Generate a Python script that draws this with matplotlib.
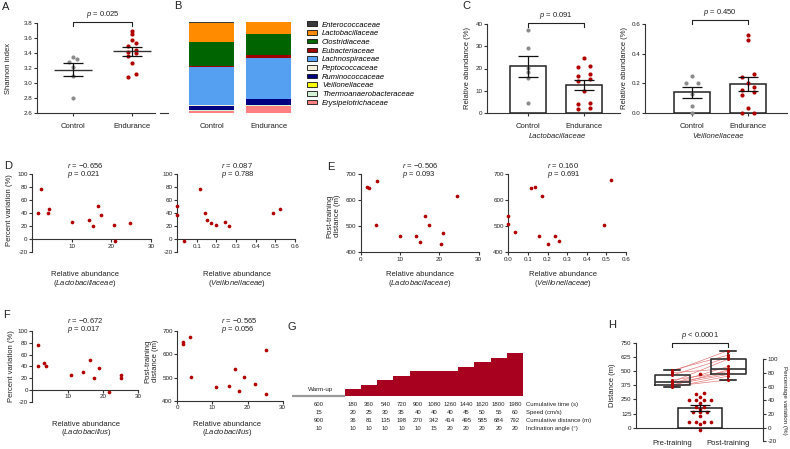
import numpy as np
import matplotlib
matplotlib.use("Agg")
import matplotlib.pyplot as plt
from matplotlib.patches import Patch
from matplotlib.lines import Line2D
from matplotlib import transforms

plt.rcParams['font.family'] = ['Liberation Sans', 'DejaVu Sans']
plt.rcParams['mathtext.fontset'] = 'custom'
plt.rcParams['mathtext.rm'] = 'Liberation Sans'
plt.rcParams['mathtext.it'] = 'Liberation Sans:italic'
plt.rcParams['axes.unicode_minus'] = False

W, H = 790, 449
RED = '#b00000'
RED_G = '#a8001f'
GRAY = '#8c8c8c'
DARK = '#333333'

# ---------------- data ----------------
groups = ['Control', 'Endurance']

# A - Shannon index
shannon_ctrl = [3.35, 3.32, 3.28, 3.22, 3.09, 2.80]
shannon_end = [3.70, 3.65, 3.58, 3.53, 3.50, 3.44, 3.42, 3.40, 3.36, 3.27, 3.12, 3.08]

# B - family composition (%), legend order (top of stack first)
families = ['Enterococcaceae', 'Lactobacillaceae', 'Clostridiaceae', 'Eubacteriaceae',
            'Lachnospiraceae', 'Peptococcaceae', 'Ruminococcaceae', 'Veillonellaceae',
            'Thermoanaerobacteraceae', 'Erysipelotrichaceae']
fam_colors = ['#3a3a3a', '#ff8c00', '#006400', '#a00000', '#55a0f0',
              '#f4f1dc', '#000080', '#ffff00', '#d4f2d4', '#ff8080']
comp_ctrl = [0.7, 20.8, 26.6, 1.8, 41.7, 0.4, 4.8, 0.14, 0.5, 2.6]
comp_end = [0.5, 12.8, 23.2, 3.3, 44.3, 0.4, 7.0, 0.2, 0.4, 7.9]

# C - relative abundances (%)
lacto_ctrl = [37.4, 29.3, 20.3, 18.5, 15.8, 4.5]
lacto_end = [24.6, 21.0, 20.7, 17.5, 16.6, 15.3, 14.3, 10.1, 4.3, 4.0, 2.2, 1.6]
veil_ctrl = [0.25, 0.205, 0.20, 0.13, 0.045, 0.0]
veil_end = [0.524, 0.49, 0.262, 0.245, 0.20, 0.174, 0.155, 0.14, 0.118, 0.037, 0.0, 0.0]

# D - percent variation vs abundance
d_lacto = [1.6, 2.2, 4.0, 4.3, 10.1, 14.3, 15.3, 16.6, 17.5, 20.7, 21.0, 24.6]
d_lacto_var = [40.8, 76.5, 40.8, 45.9, 26.5, 30.1, 20.4, 51.0, 37.8, 22.4, -2.0, 25.5]
d_veil = [0.0, 0.0, 0.037, 0.118, 0.14, 0.155, 0.174, 0.20, 0.245, 0.262, 0.49, 0.524]
d_veil_var = [51.0, 37.8, -2.0, 76.5, 40.8, 30.0, 25.5, 22.0, 26.5, 20.4, 40.8, 45.9]

# E - post-training distance vs abundance
e_lacto = [1.5, 2.1, 4.2, 3.9, 10.0, 14.1, 15.1, 16.4, 17.4, 20.4, 20.9, 24.4]
e_lacto_dist = [651, 645, 674, 503, 461, 463, 441, 539, 505, 431, 475, 617]
e_veil = [0.0, 0.0, 0.034, 0.116, 0.136, 0.172, 0.155, 0.20, 0.24, 0.26, 0.49, 0.522]
e_veil_dist = [540, 507, 476, 646, 651, 617, 464, 431, 462, 443, 505, 676]

# F - Lactobacillus genus
f_lacto = [1.5, 1.7, 3.4, 3.9, 11.0, 14.5, 16.4, 17.6, 19.0, 21.9, 25.1, 25.3]
f_lacto_var = [40.0, 76.0, 45.7, 40.6, 25.7, 29.7, 50.3, 19.4, 37.0, -3.0, 24.6, 21.0]
f_lacto2 = [1.5, 1.7, 3.6, 3.9, 11.0, 14.7, 17.5, 16.5, 19.1, 22.0, 25.2, 25.2]
f_lacto2_dist = [650, 645, 674, 502, 460, 463, 441, 537, 504, 473, 617, 430]

# G - training protocol
cum_time = [180, 360, 540, 720, 900, 1080, 1260, 1440, 1620, 1800, 1980]
speed = [20, 25, 30, 35, 40, 40, 40, 45, 50, 55, 60]
cum_dist = [36, 81, 135, 198, 270, 342, 414, 495, 585, 684, 792]
incl = [10, 10, 10, 10, 10, 15, 20, 20, 20, 20, 20]
warmup = [600, 15, 900, 10]
row_names = ['Cumulative time (s)', 'Speed (cm/s)', 'Cumulative distance (m)', 'Inclination angle (°)']

# H - distance pre/post and percentage variation
pre_dist = [357, 365, 372, 379, 390, 396, 404, 420, 462, 486, 495, 506]
post_dist = [455, 421, 510, 470, 540, 480, 605, 495, 620, 520, 680, 640]
pct_var = [51.2, 48.8, 45.3, 40.5, 40.5, 40.5, 40.5, 36.1, 30.7, 30.7, 27.3,
           23.4, 23.4, 23.4, 17.1, 8.8, 8.8, 8.8, 8.8, 5.4, -3.4, 78.0]

fig = plt.figure(figsize=(W / 100, H / 100), dpi=100)


def add_ax(l, t, r, b):
    return fig.add_axes([l / W, 1 - b / H, (r - l) / W, (b - t) / H])


def ftext(x, y, s, **kw):
    kw.setdefault('ha', 'center')
    kw.setdefault('va', 'center')
    kw.setdefault('fontsize', 5.5)
    kw.setdefault('color', '#222222')
    fig.text(x / W, 1 - y / H, s, **kw)


def style(ax):
    for s in ['top', 'right']:
        ax.spines[s].set_visible(False)
    for s in ['left', 'bottom']:
        ax.spines[s].set_color(DARK)
        ax.spines[s].set_linewidth(0.8)
    ax.tick_params(length=2, width=0.8, color=DARK, labelsize=4.5, pad=1.2, labelcolor='#222222')
    ax.patch.set_alpha(0)


def swarm(vals, tol, step):
    vals = np.asarray(vals, float)
    order = np.argsort(vals)
    offs = np.zeros(len(vals))
    grps, cur = [], [order[0]]
    for i in order[1:]:
        if vals[i] - vals[cur[0]] < tol:
            cur.append(i)
        else:
            grps.append(cur)
            cur = [i]
    grps.append(cur)
    for g in grps:
        n = len(g)
        for k, i in enumerate(g):
            offs[i] = (k - (n - 1) / 2) * step
    return offs


def bracket(ax, x1, x2, y_px, text):
    tr = transforms.blended_transform_factory(ax.transData, fig.transFigure)
    y0 = 1 - y_px / H
    y1 = 1 - (y_px + 4) / H
    ax.plot([x1, x1, x2, x2], [y1, y0, y0, y1], color='#222222', lw=0.8,
            transform=tr, clip_on=False)
    ax.text((x1 + x2) / 2, 1 - (y_px - 7) / H, text, transform=tr, ha='center',
            va='center', fontsize=5.5, color='#222222')


def mean_sem(v):
    v = np.asarray(v, float)
    return v.mean(), v.std(ddof=1) / np.sqrt(len(v))


def errbar(ax, x, m, se, half=0.18):
    ax.vlines(x, m - se, m + se, color='#111111', lw=0.9, zorder=4)
    ax.hlines([m - se, m + se], x - half, x + half, color='#111111', lw=0.9, zorder=4)


# ---------------- A ----------------
ax = add_ax(37, 23, 155, 113)
style(ax)
for i, (vals, col) in enumerate([(shannon_ctrl, GRAY), (shannon_end, RED)]):
    m, se = mean_sem(vals)
    ax.scatter(i + swarm(vals, 0.05, 0.12), vals, s=9, color=col, lw=0, zorder=3)
    ax.hlines(m, i - 0.33, i + 0.33, color=DARK, lw=1.0, zorder=4)
    errbar(ax, i, m, se, 0.17)
ax.set_xlim(-0.61, 1.39)
ax.set_ylim(2.6, 3.8)
ax.set_yticks(np.arange(2.6, 3.81, 0.2))
ax.set_yticklabels([f'{v:.1f}' for v in np.arange(2.6, 3.81, 0.2)])
ax.set_xticks([0, 1])
ax.set_xticklabels(groups, fontsize=5.5)
ax.tick_params(axis='x', pad=5)
bracket(ax, 0, 1, 21.7, '$p$ = 0.025')
ftext(9, 68, 'Shannon index', rotation=90)

# ---------------- B ----------------
ax = add_ax(183, 22, 297, 113)
ax.axis('off')
for i, comp in enumerate([comp_ctrl, comp_end]):
    bottom = 0
    for fam, col, val in zip(families[::-1], fam_colors[::-1], comp[::-1]):
        ax.bar(i, val, bottom=bottom, width=0.79, color=col, lw=0)
        bottom += val
ax.set_xlim(-0.5, 1.5)
ax.set_ylim(0, 100)
fig.add_artist(Line2D([160 / W, 168 / W], [1 - 112.5 / H, 1 - 112.5 / H], color=DARK, lw=0.8))
ftext(211.5, 126, 'Control')
ftext(268.5, 126, 'Endurance')
handles = [Patch(facecolor=c, edgecolor='#111111', lw=0.6, label=f)
           for f, c in zip(families, fam_colors)]
fig.legend(handles=handles, loc='upper left', bbox_to_anchor=(307 / W, 1 - 21.5 / H),
           frameon=False, prop={'style': 'italic', 'size': 5.5}, handlelength=1.3,
           handleheight=0.55, handletextpad=0.65, labelspacing=0.22, borderaxespad=0,
           borderpad=0)

# ---------------- C ----------------
for (l, r, vc, ve, top, ticks, fmt, name, xc) in [
        (487, 620, lacto_ctrl, lacto_end, 40, [0, 10, 20, 30, 40], '{:.0f}', 'Lactobacillaceae', 557),
        (645, 787, veil_ctrl, veil_end, 0.6, [0, 0.2, 0.4, 0.6], '{:.1f}', 'Veillonellaceae', 718)]:
    ax = add_ax(l, 24, r, 113)
    style(ax)
    x0 = -41 / 56 if top == 40 else -47 / 56
    for i, (vals, col) in enumerate([(vc, GRAY), (ve, RED)]):
        m, se = mean_sem(vals)
        ax.bar(i, m, width=0.66, color='white', edgecolor='#222222', lw=1.1, zorder=1)
        ax.scatter(i + swarm(vals, top * 0.045, 0.2), vals, s=9, color=col, lw=0,
                   zorder=3, clip_on=False)
        errbar(ax, i, m, se, 0.18)
    ax.set_xlim(x0, x0 + (r - l) / 56)
    ax.set_ylim(0, top)
    ax.set_yticks(ticks)
    ax.set_yticklabels([fmt.format(t) for t in ticks])
    ax.set_xticks([0, 1])
    ax.set_xticklabels(groups, fontsize=5.5)
    ax.tick_params(axis='x', pad=5)
    ftext(xc, 137, name, style='italic')
    ftext(l - 20, 68, 'Relative abundance (%)', rotation=90)
bracket(fig.axes[-2], 0, 1, 22.7, '$p$ = 0.091')
bracket(fig.axes[-1], 0, 1, 20, '$p$ = 0.450')


# ---------------- scatter panels D, E, F ----------------
def scatter_panel(box, x, y, xlim, ylim, xticks, yticks, xfmt, zero_axis, stats, stats_xy,
                  xlab, xlab_xy):
    ax = add_ax(*box)
    style(ax)
    ax.scatter(x, y, s=7, color=RED, lw=0, zorder=3, clip_on=False)
    ax.set_xlim(*xlim)
    ax.set_ylim(*ylim)
    ax.set_xticks(xticks)
    ax.set_xticklabels([xfmt.format(t) for t in xticks])
    ax.set_yticks(yticks)
    if zero_axis:
        ax.spines['bottom'].set_position(('data', 0))
    sx, sy = stats_xy
    ftext(sx, sy - 4.5, stats[0], ha='left')
    ftext(sx, sy + 4.5, stats[1], ha='left')
    lx, ly = xlab_xy
    ftext(lx, ly - 4.3, 'Relative abundance')
    ftext(lx, ly + 4.3, '($\\mathit{' + xlab + '}$)')
    return ax


scatter_panel((32, 174, 151, 252.3), d_lacto, d_lacto_var, (0, 30), (-20, 100),
              [10, 20, 30], range(-20, 101, 20), '{:.0f}', True,
              ('$r$ = −0.656', '$p$ = 0.021'), (67, 169.5), 'Lactobacillaceae', (85, 279))
scatter_panel((177, 174, 295, 252.3), d_veil, d_veil_var, (0, 0.6), (-20, 100),
              [0.1, 0.2, 0.3, 0.4, 0.5, 0.6], range(-20, 101, 20), '{:.1f}', True,
              ('$r$ = 0.087', '$p$ = 0.788'), (221, 169.5), 'Veillonellaceae', (237, 279))
scatter_panel((360.7, 174, 478.7, 252.3), e_lacto, e_lacto_dist, (0, 30), (400, 700),
              [0, 10, 20, 30], [400, 500, 600, 700], '{:.0f}', False,
              ('$r$ = −0.506', '$p$ = 0.093'), (402, 169.5), 'Lactobacillaceae', (420, 279))
scatter_panel((508.3, 174, 626, 252.3), e_veil, e_veil_dist, (0, 0.6), (400, 700),
              [0, 0.1, 0.2, 0.3, 0.4, 0.5, 0.6], [400, 500, 600, 700], '{:.1f}', False,
              ('$r$ = 0.160', '$p$ = 0.691'), (547, 169.5), 'Veillonellaceae', (563, 279))
scatter_panel((32.4, 331, 137.9, 401.7), f_lacto, f_lacto_var, (0, 30), (-20, 100),
              [10, 20, 30], range(-20, 101, 20), '{:.0f}', True,
              ('$r$ = −0.672', '$p$ = 0.017'), (67, 325), 'Lactobacillus', (86, 428.5))
scatter_panel((177.3, 330.7, 282.7, 401), f_lacto2, f_lacto2_dist, (0, 30), (400, 700),
              [0, 10, 20, 30], [400, 500, 600, 700], '{:.0f}', False,
              ('$r$ = −0.565', '$p$ = 0.056'), (221, 325), 'Lactobacillus', (227, 428.5))

ftext(9.5, 210, 'Percent variation (%)', rotation=90)
ftext(334, 216, 'Post-training\ndistance (m)', rotation=90, linespacing=1.1)
ftext(12, 366, 'Percent variation (%)', rotation=90)
ftext(152, 361, 'Post-training\ndistance (m)', rotation=90, linespacing=1.1)

# ---------------- G ----------------
ax = add_ax(292, 340, 523, 395.7)
ax.axis('off')
px_unit = 0.908
ax.set_xlim(-3.27, 11)
ax.set_ylim(13, 13 + 55.7 / px_unit)
ax.fill_between(np.arange(len(speed) + 1), speed + [speed[-1]], 13, step='post',
                color=RED_G, lw=0)
ax.plot([-3.27, 0], [13, 13], color='#9a9a9a', lw=1.6, solid_capstyle='butt', clip_on=False)
ax.text(-1.5, 13 + 5.7 / px_unit, 'Warm-up', ha='center', va='center', fontsize=4.5, color='#222222')
trg = transforms.blended_transform_factory(ax.transData, fig.transFigure)
rows = [cum_time, speed, cum_dist, incl]
row_y = [404.3, 412.3, 420.7, 428.3]
for vals, wu, yp, name in zip(rows, warmup, row_y, row_names):
    ax.text(-1.6, 1 - yp / H, str(wu), transform=trg, ha='center', va='center',
            fontsize=4.3, color='#222222')
    for i, v in enumerate(vals):
        ax.text(i + 0.5, 1 - yp / H, str(v), transform=trg, ha='center', va='center',
                fontsize=4.3, color='#222222')
    ftext(526, yp, name, ha='left', fontsize=4.3)

# ---------------- H ----------------
ax = add_ax(636, 342.7, 763, 441.4)
style(ax)
ax.set_ylim(-121, 750)
ax.spines['left'].set_bounds(0, 750)
ax.spines['bottom'].set_position(('data', 0))
ax.set_xlim(-0.643, 1.625)
ax.set_yticks(range(0, 751, 125))
ax.set_xticks([0, 1])
ax.set_xticklabels(['Pre-training', 'Post-training'], fontsize=5.5)
ax.tick_params(axis='x', length=0, pad=9)
for a, b in zip(pre_dist, post_dist):
    ax.plot([0, 1], [a, b], color='#e07070', lw=0.45, zorder=2)
ax.scatter(np.zeros(len(pre_dist)), pre_dist, s=5, color=RED, lw=0, zorder=3)
ax.scatter(np.ones(len(post_dist)), post_dist, s=5, color=RED, lw=0, zorder=3)
lp = dict(color=DARK, lw=1.2)
ax.boxplot([pre_dist, post_dist], positions=[0, 1], widths=0.625, whis=(0, 100),
           capwidths=0.3, showfliers=False, medianprops=lp, boxprops=lp,
           whiskerprops=dict(color='#111111', lw=1.1), capprops=dict(color='#111111', lw=1.1),
           manage_ticks=False)
bracket(ax, 0, 1, 342.7, '$p$ < 0.0001')

ax2 = ax.twinx()
ax2.set_position(ax.get_position())
for s in ['top', 'left', 'bottom']:
    ax2.spines[s].set_visible(False)
ax2.spines['right'].set_color(DARK)
ax2.spines['right'].set_linewidth(0.8)
ax2.spines['right'].set_bounds(-20, 100)
ax2.set_ylim(-20, 124.3)
ax2.set_yticks(range(-20, 101, 20))
ax2.tick_params(length=2, width=0.8, color=DARK, labelsize=4.5, pad=1.2, labelcolor='#222222')
m, se = mean_sem(pct_var)
ax2.bar(0.5, m, width=0.8, color='white', edgecolor='#222222', lw=1.1, zorder=1)
ax2.scatter(0.5 + swarm(pct_var, 2.5, 0.13), pct_var, s=7, color=RED, lw=0, zorder=3)
errbar(ax2, 0.5, m, se, 0.18)

ftext(612, 385, 'Distance (m)', rotation=90)
ftext(785, 400, 'Percentage variation (%)', rotation=270, fontsize=4.5)

# ---------------- panel letters ----------------
for lab, x, y in [('A', 6, 7), ('B', 178, 6), ('C', 466, 6), ('D', 8, 166), ('E', 331, 167),
                  ('F', 6, 315), ('G', 292, 327), ('H', 612, 325)]:
    ftext(x, y, lab, fontsize=8)

fig.savefig('out.png', dpi=100)
